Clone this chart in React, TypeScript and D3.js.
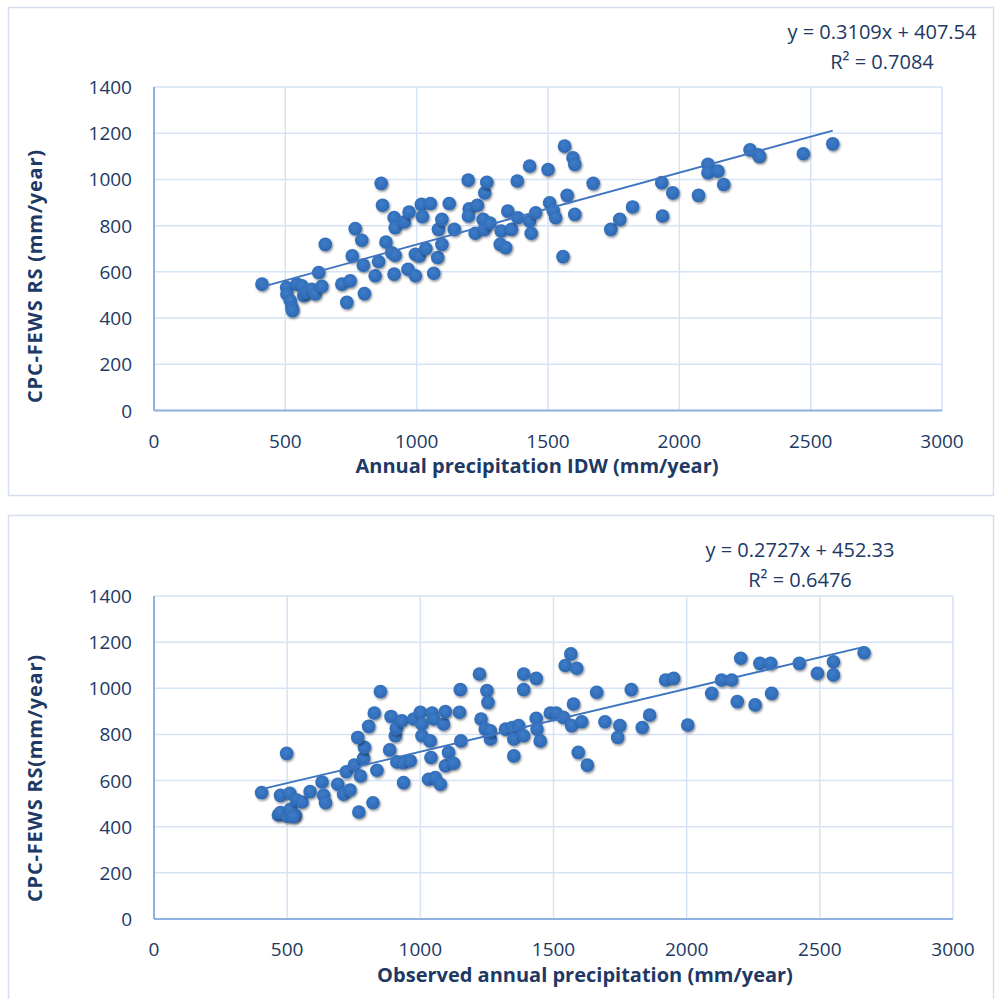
import { useEffect, useRef } from 'react';
import * as d3 from 'd3';

// chart 1: IDW vs CPC-FEWS RS
const idwData = [
  [411, 547], [505, 532], [506, 504], [519, 475], [525, 446], [527, 432], [544, 547], [563, 540],
  [570, 497], [582, 511], [601, 525], [614, 504], [627, 597], [639, 537], [652, 719], [715, 547],
  [734, 468], [747, 561], [755, 669], [766, 787], [791, 737], [797, 629], [801, 506], [842, 583],
  [855, 645], [865, 983], [870, 888], [883, 729], [905, 683], [914, 590], [914, 835], [918, 672],
  [918, 791], [953, 816], [967, 611], [971, 859], [995, 583], [995, 676], [1010, 669], [1018, 892],
  [1022, 839], [1035, 701], [1052, 896], [1065, 594], [1080, 662], [1083, 784], [1096, 719], [1096, 827],
  [1124, 896], [1143, 784], [1196, 997], [1200, 873], [1197, 842], [1223, 767], [1231, 888], [1253, 827],
  [1259, 942], [1267, 988], [1258, 784], [1279, 811], [1322, 777], [1318, 719], [1339, 705], [1347, 863],
  [1361, 784], [1383, 993], [1385, 834], [1430, 1058], [1430, 820], [1436, 767], [1453, 856], [1500, 1043],
  [1506, 899], [1520, 865], [1529, 834], [1563, 1144], [1595, 1094], [1602, 1065], [1573, 931], [1602, 849],
  [1557, 666], [1672, 983], [1739, 784], [1773, 827], [1822, 881], [1933, 986], [1975, 942], [1936, 842],
  [2073, 931], [2109, 1065], [2109, 1029], [2147, 1036], [2169, 978], [2269, 1128], [2301, 1107], [2305, 1100],
  [2472, 1111], [2584, 1154],
];

// chart 2: observed vs CPC-FEWS RS
const obsData = [
  [404, 548], [475, 536], [498, 718], [510, 545], [467, 451], [475, 461], [500, 446], [512, 475],
  [531, 449], [523, 443], [536, 516], [556, 507], [586, 552], [631, 594], [637, 536], [644, 504],
  [690, 584], [712, 541], [736, 559], [722, 638], [752, 667], [769, 464], [775, 620], [787, 696],
  [790, 744], [765, 787], [806, 835], [822, 504], [827, 893], [837, 645], [850, 986], [885, 733],
  [890, 878], [906, 794], [910, 826], [912, 681], [931, 859], [937, 678], [937, 591], [962, 686],
  [975, 867], [1000, 896], [1006, 845], [1006, 794], [1031, 606], [1037, 772], [1040, 700], [1044, 893],
  [1050, 867], [1056, 613], [1075, 584], [1087, 845], [1094, 899], [1094, 664], [1106, 722], [1125, 675],
  [1147, 896], [1150, 994], [1152, 772], [1222, 1062], [1250, 990], [1254, 939], [1228, 867], [1244, 823],
  [1263, 780], [1263, 816], [1320, 823], [1345, 830], [1369, 838], [1351, 780], [1351, 707], [1388, 794],
  [1388, 1062], [1435, 1043], [1388, 994], [1435, 870], [1438, 823], [1450, 772], [1488, 893], [1510, 893],
  [1537, 874], [1565, 1149], [1544, 1099], [1587, 1087], [1575, 932], [1568, 838], [1606, 855], [1593, 722],
  [1627, 667], [1662, 983], [1693, 855], [1749, 838], [1741, 787], [1792, 994], [1833, 830], [1861, 884],
  [1921, 1036], [1951, 1043], [2004, 841], [2094, 978], [2131, 1036], [2169, 1036], [2190, 942], [2203, 1130],
  [2257, 928], [2275, 1108], [2315, 1108], [2319, 978], [2423, 1108], [2491, 1065], [2551, 1115], [2551, 1058],
  [2666, 1154],
];

const xTicks = [0, 500, 1000, 1500, 2000, 2500, 3000];
const yTicks = [0, 200, 400, 600, 800, 1000, 1200, 1400];

const panels = [
  {
    data: idwData, slope: 0.3109, intercept: 407.54, eq: 'y = 0.3109x + 407.54', r2: 'R² = 0.7084',
    xTitle: 'Annual precipitation IDW (mm/year)', yTitle: 'CPC-FEWS RS (mm/year)',
    frame: [8, 7, 985, 488], plot: [154, 87, 942, 410.5], eqPos: [882, 32], xTitlePos: [537, 473], yTitleY: 276,
  },
  {
    data: obsData, slope: 0.2727, intercept: 452.33, eq: 'y = 0.2727x + 452.33', r2: 'R² = 0.6476',
    xTitle: 'Observed annual precipitation (mm/year)', yTitle: 'CPC-FEWS RS(mm/year)',
    frame: [8, 515, 985, 500], plot: [154, 596, 953, 919], eqPos: [800, 550], xTitlePos: [585, 982], yTitleY: 778,
  },
];

const TXT = '#203864';
const FONT = '"Open Sans", "Noto Sans", sans-serif';

const App = () => {
  const svgRef = useRef(null);

  useEffect(() => {
    const svg = d3.select(svgRef.current);
    svg.selectAll('*').remove();

    const defs = svg.append('defs');
    const f = defs.append('filter').attr('id', 'shadow').attr('x', '-50%').attr('y', '-50%').attr('width', '200%').attr('height', '200%');
    f.append('feDropShadow').attr('dx', 1).attr('dy', 1.5).attr('stdDeviation', 1.3).attr('flood-color', '#000').attr('flood-opacity', 0.45);
    const g0 = defs.append('radialGradient').attr('id', 'ball').attr('cx', '45%').attr('cy', '40%').attr('r', '60%');
    g0.append('stop').attr('offset', '0%').attr('stop-color', '#3f7dc9');
    g0.append('stop').attr('offset', '100%').attr('stop-color', '#2c68b4');

    panels.forEach((p) => {
      const [l, t, r, b] = p.plot;
      svg.append('rect')
        .attr('x', p.frame[0] + 0.5).attr('y', p.frame[1] + 0.5)
        .attr('width', p.frame[2]).attr('height', p.frame[3])
        .attr('fill', '#fff').attr('stroke', '#d5dff0').attr('stroke-width', 1.5);

      const x = d3.scaleLinear().domain([0, 3000]).range([l, r]);
      const y = d3.scaleLinear().domain([0, 1400]).range([b, t]);

      const g = svg.append('g');
      // grid
      g.selectAll('.vg').data(xTicks).join('line')
        .attr('x1', d => x(d)).attr('x2', d => x(d)).attr('y1', t).attr('y2', b)
        .attr('stroke', '#d6e3f5').attr('stroke-width', 1.5);
      g.selectAll('.hg').data(yTicks).join('line')
        .attr('x1', l).attr('x2', r).attr('y1', d => y(d)).attr('y2', d => y(d))
        .attr('stroke', '#d6e3f5').attr('stroke-width', 1.5);
      // axis lines
      g.append('line').attr('x1', l).attr('x2', r).attr('y1', b).attr('y2', b).attr('stroke', '#8fb2e0').attr('stroke-width', 2);
      g.append('line').attr('x1', l).attr('x2', l).attr('y1', t).attr('y2', b).attr('stroke', '#8fb2e0').attr('stroke-width', 2);

      // tick labels
      g.selectAll('.xl').data(xTicks).join('text')
        .attr('x', d => x(d)).attr('y', b + 37).attr('text-anchor', 'middle')
        .attr('font-family', FONT).attr('font-size', 19).attr('fill', TXT).text(d => d);
      g.selectAll('.yl').data(yTicks).join('text')
        .attr('x', l - 22).attr('y', d => y(d) + 7).attr('text-anchor', 'end')
        .attr('font-family', FONT).attr('font-size', 19).attr('fill', TXT).text(d => d);

      // titles
      g.append('text').attr('x', p.xTitlePos[0]).attr('y', p.xTitlePos[1])
        .attr('text-anchor', 'middle').attr('font-family', FONT).attr('font-weight', 'bold')
        .attr('font-size', 20).attr('fill', TXT).text(p.xTitle);
      g.append('text').attr('transform', `translate(42,${p.yTitleY}) rotate(-90)`)
        .attr('text-anchor', 'middle').attr('font-family', FONT).attr('font-weight', 'bold')
        .attr('font-size', 20).attr('letter-spacing', 0.8).attr('fill', TXT).text(p.yTitle);

      // points
      g.selectAll('.pt').data(p.data).join('circle')
        .attr('cx', d => x(d[0])).attr('cy', d => y(d[1])).attr('r', 6.8)
        .attr('fill', 'url(#ball)').attr('filter', 'url(#shadow)');

      // trendline
      const ext = d3.extent(p.data, d => d[0]);
      const line = d3.line().x(d => x(d)).y(d => y(p.slope * d + p.intercept));
      g.append('path').datum(ext).attr('d', line)
        .attr('fill', 'none').attr('stroke', '#3d74c0').attr('stroke-width', 1.8);

      // equation
      g.append('text').attr('x', p.eqPos[0]).attr('y', p.eqPos[1] + 7).attr('text-anchor', 'middle')
        .attr('font-family', FONT).attr('font-size', 20).attr('fill', TXT).text(p.eq);
      g.append('text').attr('x', p.eqPos[0]).attr('y', p.eqPos[1] + 37).attr('text-anchor', 'middle')
        .attr('font-family', FONT).attr('font-size', 20).attr('fill', TXT).text(p.r2);
    });
  }, []);

  return (
    <div style={{ position: 'absolute', left: 0, top: 0 }}>
      <svg ref={svgRef} width={995} height={999} style={{ display: 'block', background: '#fff' }}></svg>
    </div>
  );
};

export default App;
